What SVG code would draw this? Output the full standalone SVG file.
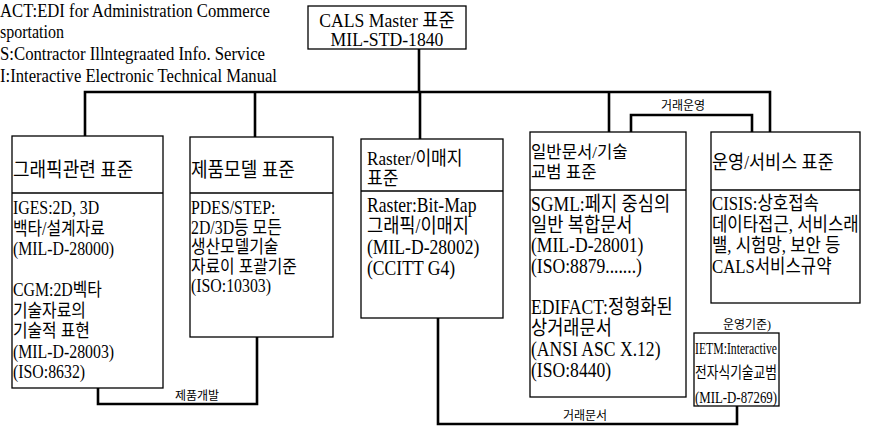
<svg xmlns="http://www.w3.org/2000/svg" width="870" height="426" viewBox="0 0 870 426">
<style>
text { font-family: "Liberation Serif", "Noto Sans CJK KR", serif; fill: #000; }
.box { fill: #fff; stroke: #000; stroke-width: 1.3; }
.div { stroke: #000; stroke-width: 1.3; }
.conn { fill: none; stroke: #000; stroke-width: 2.6; }
.lg { font-size: 19px; }
.lbl { font-size: 12px; }
.m { font-size: 19px; }
.h20 { font-size: 20px; }
.h19 { font-size: 19px; }
.h17 { font-size: 17px; }
.b18 { font-size: 18px; }
.b19 { font-size: 19px; }
.b20 { font-size: 20px; }
.b16 { font-size: 16px; }
</style>
<rect width="870" height="426" fill="#fff"/>

<g id="legend">
<text class="lg" x="0" y="17" textLength="270" lengthAdjust="spacingAndGlyphs">ACT:EDI for Administration Commerce</text>
<text class="lg" x="0" y="38" textLength="64" lengthAdjust="spacingAndGlyphs">sportation</text>
<text class="lg" x="0" y="60" textLength="265" lengthAdjust="spacingAndGlyphs">S:Contractor Illntegraated Info. Service</text>
<text class="lg" x="0" y="82" textLength="277" lengthAdjust="spacingAndGlyphs">I:Interactive Electronic Technical Manual</text>
</g>

<g id="connectors">
<path class="conn" d="M419,49 V92"/>
<path class="conn" d="M85,137 V92 H770 V132"/>
<path class="conn" d="M255,92 V137"/>
<path class="conn" d="M420,92 V139"/>
<path class="conn" d="M609,92 V132"/>
<path class="conn" d="M631,132 V115 H752 V132"/>
<path class="conn" d="M98,388 V404 H257 V337"/>
<path class="conn" d="M438,318 V424 H737 V406"/>
<text class="lbl" x="683" y="110" text-anchor="middle">거래운영</text>
<text class="lbl" x="197" y="400" text-anchor="middle">제품개발</text>
<text class="lbl" x="585" y="420" text-anchor="middle">거래문서</text>
<text class="lbl" x="747" y="329" text-anchor="middle">운영기준)</text>
</g>

<g id="master">
<rect class="box" x="308" y="6" width="158" height="43"/>
<text class="m" text-anchor="middle" transform="translate(387,27) scale(0.93,1)">CALS Master 표준</text>
<text class="m" text-anchor="middle" transform="translate(387,46) scale(0.93,1)">MIL-STD-1840</text>
</g>

<g id="graphic">
<rect class="box" x="12" y="136" width="151" height="252"/>
<line class="div" x1="12" y1="193" x2="163" y2="193"/>
<text class="h20" transform="translate(13,177) scale(0.9,1)">그래픽관련 표준</text>
<text class="b18" transform="translate(13,214) scale(0.88,1)">IGES:2D, 3D</text>
<text class="b18" transform="translate(13,234.5) scale(0.88,1)">백타/설계자료</text>
<text class="b18" transform="translate(13,255) scale(0.88,1)">(MIL-D-28000)</text>
<text class="b18" transform="translate(13,296) scale(0.88,1)">CGM:2D벡타</text>
<text class="b18" transform="translate(13,316.5) scale(0.88,1)">기술자료의</text>
<text class="b18" transform="translate(13,337) scale(0.88,1)">기술적 표현</text>
<text class="b18" transform="translate(13,357.5) scale(0.88,1)">(MIL-D-28003)</text>
<text class="b18" transform="translate(13,378) scale(0.88,1)">(ISO:8632)</text>
</g>

<g id="product">
<rect class="box" x="190" y="137" width="143" height="200"/>
<line class="div" x1="190" y1="193" x2="333" y2="193"/>
<text class="h20" transform="translate(191,177) scale(0.9,1)">제품모델 표준</text>
<text class="b18" transform="translate(191,214) scale(0.88,1)">PDES/STEP:</text>
<text class="b18" transform="translate(191,233.5) scale(0.88,1)">2D/3D등 모든</text>
<text class="b18" transform="translate(191,253) scale(0.88,1)">생산모델기술</text>
<text class="b18" transform="translate(191,272.5) scale(0.88,1)">자료이 포괄기준</text>
<text class="b18" transform="translate(191,292) scale(0.88,1)">(ISO:10303)</text>
</g>

<g id="raster">
<rect class="box" x="361" y="139" width="142" height="179"/>
<line class="div" x1="361" y1="191" x2="503" y2="191"/>
<text class="h19" transform="translate(367,165) scale(0.9,1)">Raster/이매지</text>
<text class="h19" transform="translate(367,185) scale(0.9,1)">표준</text>
<text class="b20" transform="translate(367,212) scale(0.88,1)">Raster:Bit-Map</text>
<text class="b20" transform="translate(367,233) scale(0.88,1)">그래픽/이매지</text>
<text class="b20" transform="translate(367,254) scale(0.88,1)">(MIL-D-28002)</text>
<text class="b20" transform="translate(367,275) scale(0.88,1)">(CCITT G4)</text>
</g>

<g id="document">
<rect class="box" x="530" y="132" width="156" height="265"/>
<line class="div" x1="530" y1="190" x2="686" y2="190"/>
<text class="h17" transform="translate(531,158) scale(0.98,1)">일반문서/기술</text>
<text class="h17" transform="translate(531,178) scale(0.98,1)">교범 표준</text>
<text class="b20" transform="translate(531,211) scale(0.88,1)">SGML:페지 중심의</text>
<text class="b20" transform="translate(531,231.5) scale(0.88,1)">일반 복합문서</text>
<text class="b20" transform="translate(531,252) scale(0.88,1)">(MIL-D-28001)</text>
<text class="b20" transform="translate(531,272.5) scale(0.88,1)">(ISO:8879.......)</text>
<text class="b20" transform="translate(531,314) scale(0.88,1)">EDIFACT:정형화된</text>
<text class="b20" transform="translate(531,335) scale(0.88,1)">상거래문서</text>
<text class="b20" transform="translate(531,356) scale(0.88,1)">(ANSI ASC X.12)</text>
<text class="b20" transform="translate(531,377) scale(0.88,1)">(ISO:8440)</text>
</g>

<g id="service">
<rect class="box" x="711" y="132" width="149" height="171"/>
<line class="div" x1="711" y1="190" x2="860" y2="190"/>
<text class="h19" transform="translate(712,169) scale(0.92,1)">운영/서비스 표준</text>
<text class="b19" transform="translate(712,210) scale(0.88,1)">CISIS:상호접속</text>
<text class="b19" transform="translate(712,231) scale(0.88,1)">데이타접근, 서비스래</text>
<text class="b19" transform="translate(712,252) scale(0.88,1)">밸, 시험망, 보안 등</text>
<text class="b19" transform="translate(712,273) scale(0.88,1)">CALS서비스규약</text>
</g>

<g id="ietm">
<rect class="box" x="694" y="333" width="85" height="73"/>
<text class="b16" x="695" y="354" textLength="82" lengthAdjust="spacingAndGlyphs">IETM:Interactive</text>
<text class="b16" x="695" y="378" textLength="82" lengthAdjust="spacingAndGlyphs">전자식기술교범</text>
<text class="b16" x="695" y="403" textLength="82" lengthAdjust="spacingAndGlyphs">(MIL-D-87269)</text>
</g>
</svg>
